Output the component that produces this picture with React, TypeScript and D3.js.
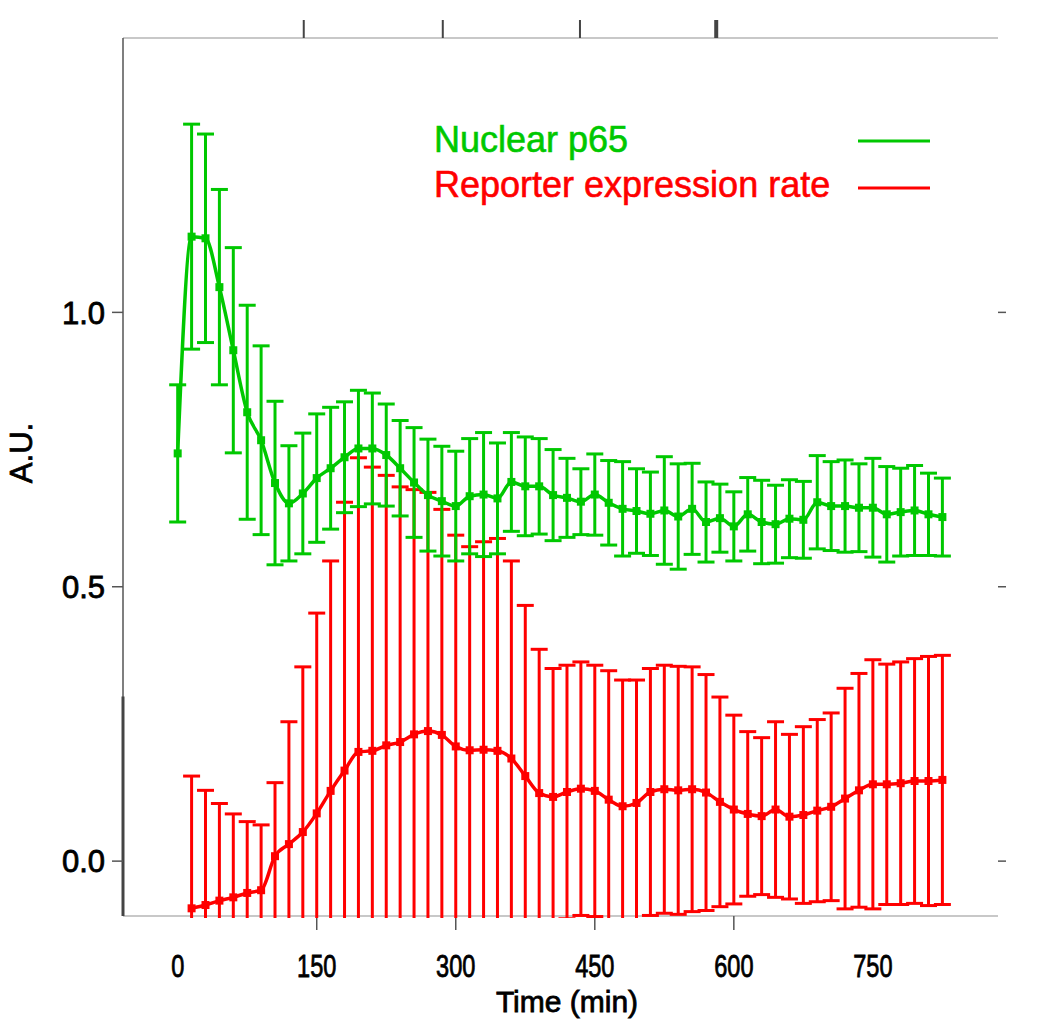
import React from "react";
import * as d3 from "d3";

// ---- data ----
const greenTime = [0, 15, 30, 45, 60, 75, 90, 105, 120, 135, 150, 165, 180, 195, 210, 225, 240, 255, 270, 285, 300, 315, 330, 345, 360, 375, 390, 405, 420, 435, 450, 465, 480, 495, 510, 525, 540, 555, 570, 585, 600, 615, 630, 645, 660, 675, 690, 705, 720, 735, 750, 765, 780, 795, 810, 825];
const greenValue = [0.743, 1.138, 1.135, 1.046, 0.931, 0.818, 0.767, 0.689, 0.652, 0.670, 0.698, 0.716, 0.736, 0.752, 0.752, 0.740, 0.716, 0.690, 0.667, 0.656, 0.647, 0.665, 0.668, 0.661, 0.691, 0.683, 0.683, 0.667, 0.662, 0.655, 0.668, 0.653, 0.642, 0.638, 0.633, 0.639, 0.628, 0.642, 0.618, 0.625, 0.610, 0.632, 0.618, 0.614, 0.624, 0.622, 0.654, 0.647, 0.647, 0.644, 0.644, 0.632, 0.636, 0.639, 0.632, 0.627];
const greenError = [0.125, 0.205, 0.19, 0.178, 0.187, 0.195, 0.172, 0.149, 0.105, 0.110, 0.117, 0.111, 0.101, 0.106, 0.101, 0.093, 0.087, 0.100, 0.102, 0.100, 0.100, 0.105, 0.113, 0.101, 0.090, 0.090, 0.087, 0.083, 0.072, 0.060, 0.074, 0.077, 0.086, 0.077, 0.076, 0.098, 0.096, 0.083, 0.073, 0.062, 0.063, 0.067, 0.076, 0.071, 0.071, 0.070, 0.085, 0.081, 0.084, 0.080, 0.090, 0.087, 0.080, 0.082, 0.075, 0.071];

const redTime = [15, 30, 45, 60, 75, 90, 105, 120, 135, 150, 165, 180, 195, 210, 225, 240, 255, 270, 285, 300, 315, 330, 345, 360, 375, 390, 405, 420, 435, 450, 465, 480, 495, 510, 525, 540, 555, 570, 585, 600, 615, 630, 645, 660, 675, 690, 705, 720, 735, 750, 765, 780, 795, 810, 825];
const redValue = [-0.086, -0.080, -0.072, -0.066, -0.058, -0.053, 0.009, 0.031, 0.053, 0.087, 0.128, 0.165, 0.199, 0.201, 0.211, 0.217, 0.231, 0.237, 0.230, 0.209, 0.202, 0.203, 0.201, 0.187, 0.155, 0.124, 0.117, 0.126, 0.132, 0.128, 0.112, 0.100, 0.106, 0.126, 0.131, 0.129, 0.131, 0.125, 0.108, 0.094, 0.086, 0.082, 0.094, 0.081, 0.084, 0.092, 0.099, 0.114, 0.129, 0.140, 0.140, 0.142, 0.146, 0.146, 0.148];
const redError = [0.241, 0.209, 0.177, 0.152, 0.130, 0.119, 0.134, 0.223, 0.301, 0.365, 0.419, 0.489, 0.536, 0.517, 0.492, 0.465, 0.446, 0.435, 0.411, 0.385, 0.371, 0.379, 0.387, 0.360, 0.311, 0.262, 0.234, 0.231, 0.231, 0.229, 0.235, 0.230, 0.224, 0.225, 0.226, 0.226, 0.223, 0.215, 0.191, 0.172, 0.150, 0.143, 0.160, 0.150, 0.161, 0.166, 0.171, 0.201, 0.213, 0.227, 0.219, 0.221, 0.223, 0.227, 0.227];

const xTicks = [0, 150, 300, 450, 600, 750];
const xTickMarks = [150, 300, 450, 600];
const topTickMarks = [136, 286, 434, 581];
const yTicks = [0.0, 0.5, 1.0];
const legendLabels = ["Nuclear p65", "Reporter expression rate"];

const GREEN = "#00c800";
const RED = "#ff0000";
const FONT = "'Liberation Sans', Arial, sans-serif";

const W = 1050;
const H = 1023;
const L = 123, R = 998, T = 38, B = 916;

export default function App() {
  const x = d3.scaleLinear().domain([-59, 885]).range([L, R]);
  const y = d3.scaleLinear().domain([-0.1, 1.5]).range([B, T]);

  const line = d3
    .line<[number, number]>()
    .x((d) => x(d[0]))
    .y((d) => y(d[1]))
    .curve(d3.curveMonotoneX);

  const series = (times: number[], vals: number[], errs: number[], color: string, key: string) => {
    const pts = times.map((t, i) => [t, vals[i]] as [number, number]);
    const cap = 8.5;
    return (
      <g key={key}>
        {times.map((t, i) => {
          const cx = x(t);
          const yt = y(vals[i] + errs[i]);
          const yb = y(vals[i] - errs[i]);
          return (
            <g key={i} stroke={color} strokeWidth={3}>
              <line x1={cx} x2={cx} y1={yt} y2={yb} />
              <line x1={cx - cap} x2={cx + cap} y1={yt} y2={yt} />
              <line x1={cx - cap} x2={cx + cap} y1={yb} y2={yb} />
            </g>
          );
        })}
        <path d={line(pts) || ""} fill="none" stroke={color} strokeWidth={3.5} />
        {pts.map((p, i) => (
          <rect key={i} x={x(p[0]) - 4} y={y(p[1]) - 4} width={8} height={8} fill={color} />
        ))}
      </g>
    );
  };

  const heavy = { stroke: "#000", strokeWidth: 0.8 };

  return (
    <svg width={W} height={H} style={{ position: "absolute", left: 0, top: 0, background: "#fff" }} fontFamily={FONT}>
      <defs>
        <clipPath id="plotClip">
          <rect x={L} y={T} width={R - L} height={B - T + 2} />
        </clipPath>
      </defs>
      {/* frame */}
      <line x1={L} x2={R} y1={T} y2={T} stroke="#c8c8c8" strokeWidth={2} />
      <line x1={L} x2={R} y1={B} y2={B} stroke="#c8c8c8" strokeWidth={2} />
      <line x1={L} x2={L} y1={T} y2={B} stroke="#555" strokeWidth={1.5} />
      <line x1={L} x2={L} y1={y(0.3)} y2={B} stroke="#444" strokeWidth={3} />
      {topTickMarks.map((t, i) => (
        <line key={t} x1={x(t)} x2={x(t)} y1={T} y2={T - 18} stroke="#444" strokeWidth={i === 3 ? 4 : 2} />
      ))}
      {xTickMarks.map((t) => (
        <line key={t} x1={x(t)} x2={x(t)} y1={B} y2={B + 14} stroke="#555" strokeWidth={1.5} />
      ))}
      {yTicks.map((v) => (
        <g key={v} stroke="#555" strokeWidth={1.5}>
          <line x1={L - 11} x2={L} y1={y(v)} y2={y(v)} />
          <line x1={R} x2={R + 8} y1={y(v)} y2={y(v)} />
        </g>
      ))}
      {yTicks.map((v) => (
        <text key={v} x={105} y={y(v)} dy="0.36em" textAnchor="end" fontSize={31} fill="#000" {...heavy}>
          {d3.format(".1f")(v)}
        </text>
      ))}
      {xTicks.map((t) => (
        <text
          key={t}
          transform={`translate(${x(t)},977) scale(0.76,1)`}
          textAnchor="middle"
          fontSize={31}
          fill="#000"
          {...heavy}
        >
          {t}
        </text>
      ))}
      <text transform={`translate(${x(420)},1012)`} textAnchor="middle" fontSize={30} fill="#000" {...heavy}>
        Time (min)
      </text>
      <text transform="translate(32,453) rotate(-90)" textAnchor="middle" fontSize={31} fill="#000" {...heavy}>
        A.U.
      </text>

      <g clipPath="url(#plotClip)">
        {series(redTime, redValue, redError, RED, "red")}
        {series(greenTime, greenValue, greenError, GREEN, "green")}
      </g>

      {/* legend */}
      <text x={434} y={152} fontSize={36} fill={GREEN} stroke={GREEN} strokeWidth={0.6}>{legendLabels[0]}</text>
      <text x={434} y={197} fontSize={36} fill={RED} stroke={RED} strokeWidth={0.6}>{legendLabels[1]}</text>
      <line x1={858} x2={930} y1={141} y2={141} stroke={GREEN} strokeWidth={3} />
      <line x1={858} x2={930} y1={188} y2={188} stroke={RED} strokeWidth={3} />
    </svg>
  );
}
